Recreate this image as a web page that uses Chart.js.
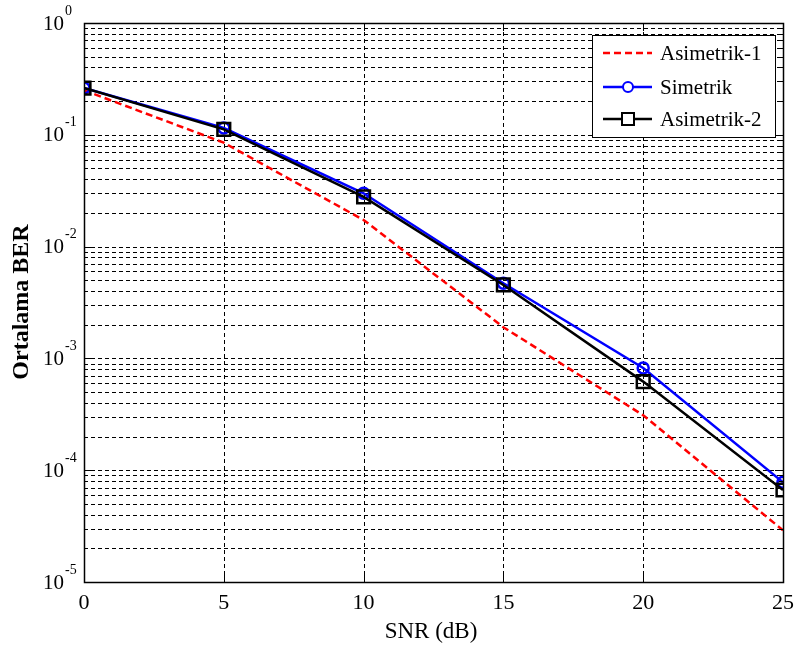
<!DOCTYPE html>
<html>
<head>
<meta charset="utf-8">
<script src="https://cdn.jsdelivr.net/npm/chart.js@4.4.0/dist/chart.umd.min.js"></script>
<style>
  html, body { margin: 0; padding: 0; background: #fff; }
  #wrap { width: 799px; height: 654px; position: relative; }
</style>
</head>
<body>
<div id="wrap"><canvas id="berChart" width="799" height="654"></canvas></div>
<script>
// values
const snr = [0, 5, 10, 15, 20, 25];
const berAsim1 = [0.25, 0.085, 0.0173, 0.0019, 0.00031, 0.000029];
const berSim = [0.262, 0.115, 0.030, 0.0047, 0.00082, 0.000078];
const berAsim2 = [0.262, 0.112, 0.0278, 0.00454, 0.00062, 0.0000665];

const xTicks = [0, 5, 10, 15, 20, 25];
const decades = [-5, -4, -3, -2, -1, 0];
const mantissas = [1, 2, 3, 4, 5, 6, 7, 8, 9];

const serif = "'Liberation Serif', 'DejaVu Serif', serif";

// y ticks: every 1..9 x 10^e, plus 10^0
let yTickValues = [];
decades.forEach(e => {
    if (e === 0) { yTickValues.push(1); return; }
    mantissas.forEach(m => yTickValues.push(m * Math.pow(10, e)));
});

// dashed MATLAB grid, under the lines
const matlabGrid = {
    id: 'matlabGrid',
    beforeDatasetsDraw(chart) {
        const ctx = chart.ctx;
        const a = chart.chartArea;
        const ys = chart.scales.y;
        const xs = chart.scales.x;
        ctx.save();
        ctx.strokeStyle = '#000';
        ctx.lineWidth = 1;
        ctx.setLineDash([4, 3]);
        ctx.beginPath();
        yTickValues.forEach(v => {
            const y = Math.round(ys.getPixelForValue(v)) + 0.5;
            ctx.moveTo(a.left, y); ctx.lineTo(a.right, y);
        });
        xTicks.forEach(v => {
            const x = Math.round(xs.getPixelForValue(v)) + 0.5;
            ctx.moveTo(x, a.bottom); ctx.lineTo(x, a.top);
        });
        ctx.stroke();
        ctx.restore();
    }
};

// frame, inner tick marks, tick labels, axis titles, legend
const matlabDecor = {
    id: 'matlabDecor',
    afterDraw(chart) {
        const ctx = chart.ctx;
        const a = chart.chartArea;
        const ys = chart.scales.y;
        const xs = chart.scales.x;
        ctx.save();

        // tick marks inside the box
        ctx.strokeStyle = '#000';
        ctx.lineWidth = 1;
        ctx.setLineDash([]);
        ctx.beginPath();
        yTickValues.forEach(v => {
            const y = Math.round(ys.getPixelForValue(v)) + 0.5;
            const major = Math.abs(Math.log10(v) - Math.round(Math.log10(v))) < 1e-9;
            const len = major ? 8 : 4;
            ctx.moveTo(a.left, y); ctx.lineTo(a.left + len, y);
            ctx.moveTo(a.right, y); ctx.lineTo(a.right - len, y);
        });
        xTicks.forEach(v => {
            const x = Math.round(xs.getPixelForValue(v)) + 0.5;
            ctx.moveTo(x, a.bottom); ctx.lineTo(x, a.bottom - 8);
            ctx.moveTo(x, a.top); ctx.lineTo(x, a.top + 8);
        });
        ctx.stroke();

        // frame
        ctx.lineWidth = 1.5;
        ctx.strokeRect(Math.round(a.left) + 0.5, Math.round(a.top) + 0.5,
            Math.round(a.right - a.left), Math.round(a.bottom - a.top));

        ctx.fillStyle = '#000';
        ctx.textBaseline = 'middle';

        // x tick labels
        ctx.font = '22px ' + serif;
        ctx.textAlign = 'center';
        xTicks.forEach(v => {
            ctx.fillText(String(v), xs.getPixelForValue(v), 603);
        });

        // y tick labels 10^e
        decades.forEach(e => {
            const y = ys.getPixelForValue(Math.pow(10, e));
            ctx.font = '21px ' + serif;
            ctx.textAlign = 'right';
            ctx.fillText('10', 64, y + 1);
            ctx.font = '14px ' + serif;
            ctx.textAlign = 'left';
            ctx.fillText(e === 0 ? '0' : '-' + Math.abs(e), 65, y - 12);
        });

        // axis titles
        ctx.font = '23px ' + serif;
        ctx.textAlign = 'center';
        ctx.fillText('SNR (dB)', 431, 632);
        ctx.save();
        ctx.translate(22, 302);
        ctx.rotate(-Math.PI / 2);
        ctx.font = 'bold 24px ' + serif;
        ctx.fillText('Ortalama BER', 0, 0);
        ctx.restore();

        // legend
        const lx = 592, ly = 35, lw = 183, lh = 102;
        ctx.fillStyle = '#fff';
        ctx.fillRect(lx, ly, lw, lh);
        ctx.lineWidth = 1;
        ctx.strokeStyle = '#000';
        ctx.strokeRect(lx + 0.5, ly + 0.5, lw, lh);
        const items = chart.data.datasets.slice().sort((p, q) => p.legendRank - q.legendRank);
        const rows = [53, 87, 119];
        items.forEach((ds, i) => {
            const y = rows[i];
            ctx.strokeStyle = ds.borderColor;
            ctx.lineWidth = 2.5;
            ctx.setLineDash(ds.borderDash || []);
            ctx.beginPath();
            ctx.moveTo(603, y); ctx.lineTo(652, y);
            ctx.stroke();
            ctx.setLineDash([]);
            ctx.lineWidth = 2;
            if (ds.pointStyle === 'circle' && ds.pointRadius > 0) {
                ctx.fillStyle = '#fff';
                ctx.beginPath();
                ctx.arc(628, y, 5, 0, Math.PI * 2);
                ctx.fill();
                ctx.stroke();
            } else if (ds.pointStyle === 'rect' && ds.pointRadius > 0) {
                ctx.fillStyle = '#fff';
                ctx.fillRect(622, y - 6, 12, 12);
                ctx.strokeRect(622, y - 6, 12, 12);
            }
            ctx.fillStyle = '#000';
            ctx.font = '21px ' + serif;
            ctx.textAlign = 'left';
            ctx.fillText(ds.label, 660, y + 1);
        });
        ctx.restore();
    }
};

new Chart(document.getElementById('berChart').getContext('2d'), {
    type: 'line',
    data: {
        datasets: [
            {
                label: 'Asimetrik-2', legendRank: 2, order: 0,
                data: snr.map((x, i) => ({ x: x, y: berAsim2[i] })),
                borderColor: '#000', borderWidth: 2.5,
                pointStyle: 'rect', pointRadius: 9, pointBorderWidth: 2.5,
                pointBackgroundColor: 'rgba(0,0,0,0)', pointBorderColor: '#000'
            },
            {
                label: 'Simetrik', legendRank: 1, order: 1,
                data: snr.map((x, i) => ({ x: x, y: berSim[i] })),
                borderColor: '#0000ff', borderWidth: 2.5,
                pointStyle: 'circle', pointRadius: 5.5, pointBorderWidth: 2.5,
                pointBackgroundColor: 'rgba(0,0,0,0)', pointBorderColor: '#0000ff'
            },
            {
                label: 'Asimetrik-1', legendRank: 0, order: 2,
                data: snr.map((x, i) => ({ x: x, y: berAsim1[i] })),
                borderColor: '#ff0000', borderWidth: 2.5, borderDash: [7, 4],
                pointRadius: 0
            }
        ]
    },
    options: {
        responsive: false,
        animation: false,
        layout: { padding: { top: 23, right: 16, left: 0, bottom: 0 } },
        plugins: { legend: { display: false }, tooltip: { enabled: false } },
        scales: {
            x: {
                type: 'linear', min: 0, max: 25,
                afterBuildTicks: s => { s.ticks = xTicks.map(v => ({ value: v })); },
                afterFit: s => { s.height = 72; },
                grid: { display: false },
                border: { display: false },
                ticks: { display: false }
            },
            y: {
                type: 'logarithmic', min: 1e-5, max: 1,
                afterBuildTicks: s => { s.ticks = yTickValues.map(v => ({ value: v })); },
                afterFit: s => { s.width = 84; },
                grid: { display: false },
                border: { display: false },
                ticks: { display: false }
            }
        }
    },
    plugins: [matlabGrid, matlabDecor]
});
</script>
</body>
</html>
